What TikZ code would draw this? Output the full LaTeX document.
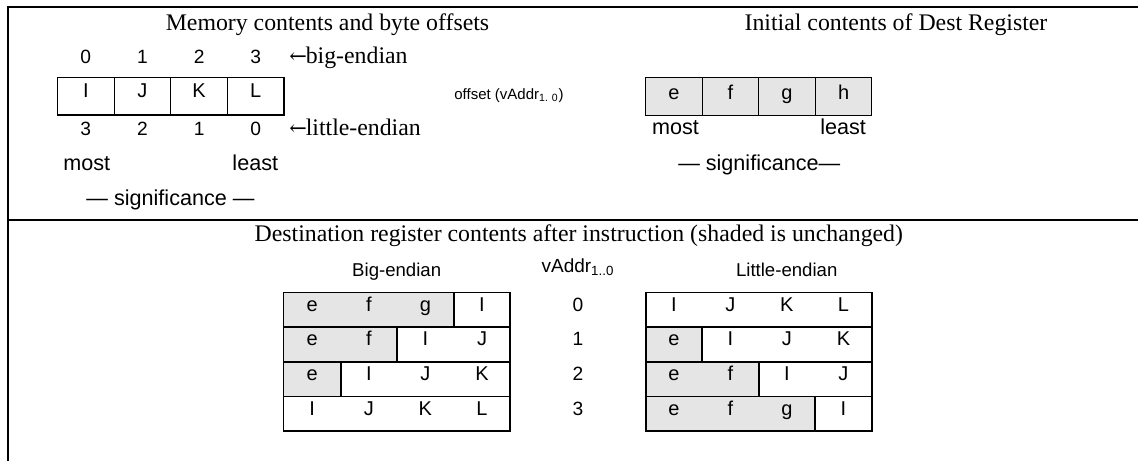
\documentclass[tikz,border=0pt]{standalone}
\usepackage{fontspec}
\setmainfont{Liberation Serif}
\setsansfont{Liberation Sans}
\newfontfamily\arrowfont{DejaVu Serif}
\definecolor{cellgray}{gray}{0.9}
\newcommand{\larr}{{\arrowfont\fontsize{10.5}{12}\selectfont ←}}
\begin{document}
\begin{tikzpicture}[x=0.5pt,y=-0.5pt,
  frame/.style={line width=1pt},
  cellline/.style={line width=0.6pt},
  tabline/.style={line width=0.8pt},
  ttl/.style={font=\fontsize{11.9}{13}\selectfont, anchor=base, inner sep=0pt},
  lbl/.style={font=\sffamily\fontsize{10.8}{12}\selectfont, anchor=base, inner sep=0pt},
  ctext/.style={font=\sffamily\fontsize{10}{12}\selectfont, anchor=base, inner sep=0pt},
  hdr/.style={font=\sffamily\fontsize{9.3}{11}\selectfont, anchor=base, inner sep=0pt},
  dig/.style={font=\sffamily\fontsize{9.6}{11}\selectfont, anchor=base, inner sep=0pt},
]
\useasboundingbox (0,0) rectangle (1138,461);
% frame
\draw[frame] (1138,7.3) -- (8,7.3) -- (8,461);
\draw[frame] (8,220) -- (1138,220);
% titles
\node[ttl] (t1) at (327.5,30) {Memory contents and byte offsets};
\node[ttl] (t2) at (896,30) {Initial contents of Dest Register};
\node[ttl] (t3) at (578.8,241.5) {Destination register contents after instruction (shaded is unchanged)};
% memory cells
\draw[cellline] (57.3,77.3) rectangle (284,115);
\foreach \x in {114.3,170.7,227.7} \draw[cellline] (\x,77.3) -- (\x,115);
\foreach \t [count=\k from 0] in {I,J,K,L}
  \node[ctext] (m\k) at ({85.8+56.65*\k},97) {\t};
\foreach \t [count=\k from 0] in {0,1,2,3}
  \node[dig] (bo\k) at ({85.8+56.65*\k},63.5) {\t};
\foreach \t [count=\k from 0] in {3,2,1,0}
  \node[dig] (lo\k) at ({85.8+56.65*\k},135.5) {\t};
\node[ttl, anchor=base west] (be) at (289,63.3) {\larr\kern-0.6pt big-endian};
\node[ttl, anchor=base west] (le) at (289,135) {\larr\kern-0.6pt little-endian};
\node[lbl, anchor=base west] (most1) at (63,170) {most};
\node[lbl, anchor=base east] (least1) at (278.5,170) {least};
\node[lbl] (sig1) at (170.5,205) {— significance —};
\node[font=\sffamily\fontsize{7.5}{9}\selectfont, anchor=base west, inner sep=0pt] (off) at (454,99) {offset (vAddr\textsubscript{1. 0})};
% initial register
\fill[cellgray] (645.3,77.3) rectangle (871.7,115);
\draw[line width=0.5pt] (645.3,77.3) rectangle (871.7,115);
\foreach \x in {702.3,758.7,815.7} \draw[line width=0.5pt] (\x,77.3) -- (\x,115);
\foreach \t [count=\k from 0] in {e,f,g,h}
  \node[ctext] (r\k) at ({673.8+56.6*\k},99.3) {\t};
\node[lbl, anchor=base west] (most2) at (651.7,134) {most};
\node[lbl, anchor=base east] (least2) at (866.3,134) {least};
\node[lbl] (sig2) at (759.3,170) {— significance—};
% bottom labels
\node[hdr] (bel) at (396.7,276.7) {Big-endian};
\node[hdr] (lel) at (786.7,276) {Little-endian};
\node[font=\sffamily\fontsize{9.5}{11}\selectfont, anchor=base, inner sep=0pt] (va) at (578,272.7) {vAddr\textsubscript{1..0}};
% big-endian table
\fill[cellgray] (283.3,292.3) rectangle (454,327);
\fill[cellgray] (283.3,327) rectangle (396.7,361.7);
\fill[cellgray] (283.3,361.7) rectangle (341,396.3);
\draw[tabline] (283.3,292.3) rectangle (510,430.7);
\foreach \y in {327,361.7,396.3} \draw[tabline] (283.3,\y) -- (510,\y);
\draw[tabline] (454,292.3) -- (454,327);
\draw[tabline] (396.7,327) -- (396.7,361.7);
\draw[tabline] (341,361.7) -- (341,396.3);
% little-endian table
\fill[cellgray] (646,327) rectangle (701.7,361.7);
\fill[cellgray] (646,361.7) rectangle (759,396.3);
\fill[cellgray] (646,396.3) rectangle (814.7,430.7);
\draw[tabline] (646,292.3) rectangle (872,430.7);
\foreach \y in {327,361.7,396.3} \draw[tabline] (646,\y) -- (872,\y);
\draw[tabline] (701.7,327) -- (701.7,361.7);
\draw[tabline] (759,361.7) -- (759,396.3);
\draw[tabline] (814.7,396.3) -- (814.7,430.7);
% table texts
\foreach \r/\pa/\pb/\pc/\pd in {0/e/f/g/I, 1/e/f/I/J, 2/e/I/J/K, 3/I/J/K/L} {
  \foreach \t [count=\k from 0] in {\pa,\pb,\pc,\pd}
    \node[ctext] (b\r\k) at ({312.2+56.6*\k},{311+34.67*\r}) {\t};
  \node[dig] (n\r) at (578,{311+34.67*\r}) {\r};
}
\foreach \r/\pa/\pb/\pc/\pd in {0/I/J/K/L, 1/e/I/J/K, 2/e/f/I/J, 3/e/f/g/I} {
  \foreach \t [count=\k from 0] in {\pa,\pb,\pc,\pd}
    \node[ctext] (l\r\k) at ({673.8+56.55*\k},{311+34.67*\r}) {\t};
}
\end{tikzpicture}
\end{document}
